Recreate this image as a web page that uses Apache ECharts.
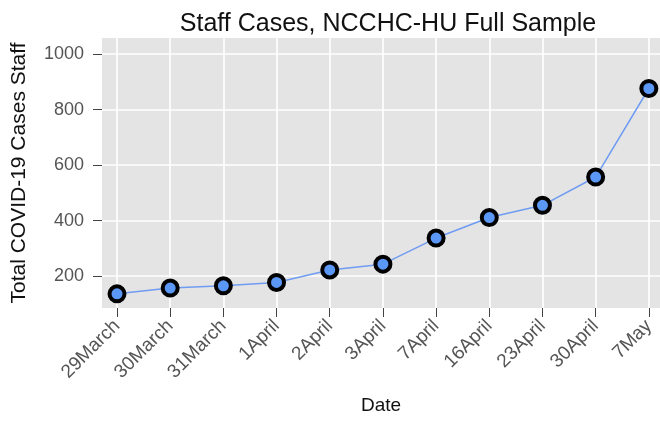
<!DOCTYPE html>
<html>
<head>
<meta charset="utf-8">
<script src="https://cdn.jsdelivr.net/npm/echarts@6/dist/echarts.min.js"></script>
<style>html,body{margin:0;padding:0;background:#fff;}#c{width:660px;height:422px;}</style>
</head>
<body>
<div id="c"></div>
<script>
const dates = ['29March','30March','31March','1April','2April','3April','7April','16April','23April','30April','7May'];
const cases = [136, 157, 165, 177, 222, 243, 337, 411, 455, 557, 876];
const yTicks = [200, 400, 600, 800, 1000];

const idx = dates.map((d, i) => i);
const chart = echarts.init(document.getElementById('c'), null, {renderer: 'canvas'});
const font = 'Liberation Sans, Arial, sans-serif';
chart.setOption({
  animation: false,
  backgroundColor: '#fff',
  title: {
    text: 'Staff Cases, NCCHC-HU Full Sample',
    left: 383, top: 7, textAlign: 'center',
    textStyle: {fontFamily: font, fontSize: 25, fontWeight: 'normal', color: '#111'}
  },
  grid: {left: 102, right: 0, top: 38, bottom: 114, show: true, backgroundColor: '#e4e4e4', borderWidth: 0},
  xAxis: {
    type: 'value', min: -0.282, max: 10.21,
    name: 'Date', nameLocation: 'middle', nameGap: 88,
    nameTextStyle: {fontFamily: font, fontSize: 19, color: '#111'},
    axisLine: {show: false, onZero: false},
    axisTick: {show: true, customValues: idx, length: 9, lineStyle: {color: '#444', width: 1}},
    axisLabel: {customValues: idx, rotate: 45, margin: 15, fontFamily: font, fontSize: 19, color: '#555',
      formatter: v => dates[Math.round(v)]},
    splitLine: {show: true, lineStyle: {color: '#fff', width: 1.6}}
  },
  yAxis: {
    type: 'value', min: 85, max: 1058,
    name: 'Total COVID-19 Cases Staff', nameLocation: 'middle', nameGap: 72,
    nameTextStyle: {fontFamily: font, fontSize: 21, color: '#111'},
    axisLine: {show: false, onZero: false},
    axisTick: {show: true, customValues: yTicks, length: 9, lineStyle: {color: '#444', width: 1}},
    axisLabel: {customValues: yTicks, margin: 18, fontFamily: font, fontSize: 18, color: '#555',
      formatter: v => String(v)},
    splitLine: {show: true, lineStyle: {color: '#fff', width: 1.6}}
  },
  series: [{
    type: 'line',
    data: idx.map(i => [i, cases[i]]),
    symbol: 'circle', symbolSize: 15,
    lineStyle: {color: '#6f9cf2', width: 1.5},
    itemStyle: {color: '#5b97f5', borderColor: '#000', borderWidth: 4},
    z: 3
  }]
});
</script>
</body>
</html>
